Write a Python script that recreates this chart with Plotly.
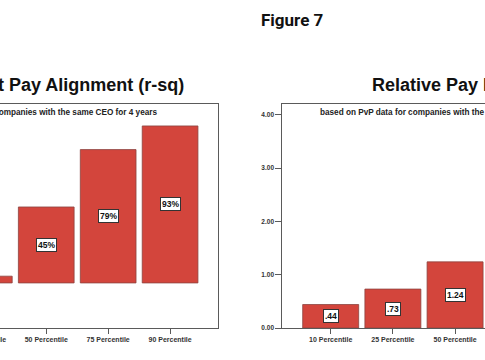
import plotly.graph_objects as go

# ---- data ----
left_categories = ["25 Percentile", "50 Percentile", "75 Percentile", "90 Percentile"]
left_values = [0.04, 0.45, 0.79, 0.93]
right_categories = ["10 Percentile", "25 Percentile", "50 Percentile"]
right_values = [0.44, 0.73, 1.24]
right_ytick_vals = [0.0, 1.0, 2.0, 3.0, 4.0]

fig_title = "Figure 7"
left_title = "Current Pay Alignment (r-sq)"
right_title = "Relative Pay For Performance"
subtitle = "based on PvP data for companies with the same CEO for 4 years"

# ---- styling / layout ----
W, H = 485, 360
M_T, M_B = 104, 32
BAR = "#d3453c"
BAR_EDGE = "#8c4440"
AXIS = "#5a5a5a"
FONT = "Liberation Sans, Arial, sans-serif"

L_DOM = [0.0, 218 / W]
R_DOM = [282.3 / W, 1.0]
L_XR = [0.253, 3.774]
R_XR = [-0.778, 2.481]
L_YR = [-0.267, 1.06]
R_YR = [0.0, 4.2]


def px_x(px):
    return px / W


def px_y(py):
    return (H - M_B - py) / (H - M_T - M_B)


fig = go.Figure()
fig.add_trace(go.Bar(x=left_categories, y=left_values, xaxis="x", yaxis="y",
                     marker=dict(color=BAR, line=dict(color=BAR_EDGE, width=0.8)),
                     hoverinfo="skip"))
fig.add_trace(go.Bar(x=right_categories, y=right_values, xaxis="x2", yaxis="y2",
                     marker=dict(color=BAR, line=dict(color=BAR_EDGE, width=0.8)),
                     hoverinfo="skip"))

tickfont = dict(family=FONT, size=7, color="#333333", weight=700)

annotations = []
# value labels centred in bars
for c, v in zip(left_categories, left_values):
    if c == left_categories[0]:
        continue
    annotations.append(dict(x=c, y=v / 2, xref="x", yref="y", text=f"{round(v*100)}%",
                            showarrow=False, bgcolor="white", bordercolor="#333333",
                            borderwidth=1, borderpad=1,
                            font=dict(family=FONT, size=8.5, color="#111111", weight=700)))
for c, v in zip(right_categories, right_values):
    annotations.append(dict(x=c, y=v / 2, xref="x2", yref="y2", text=f"{v:.2f}".lstrip("0"),
                            showarrow=False, bgcolor="white", bordercolor="#333333",
                            borderwidth=1, borderpad=1,
                            font=dict(family=FONT, size=8.5, color="#111111", weight=700)))

# partially visible tick label of first left category (its tick lies off-screen)
frac = (0 - L_XR[0]) / (L_XR[1] - L_XR[0])
annotations.append(dict(x=L_DOM[0] + frac * (L_DOM[1] - L_DOM[0]), y=px_y(339),
                        xref="paper", yref="paper", text=left_categories[0], showarrow=False,
                        xanchor="center", yanchor="middle", font=tickfont))

# titles
annotations.append(dict(x=px_x(292), y=px_y(20), xref="paper", yref="paper", text=fig_title,
                        showarrow=False, xanchor="center", yanchor="middle",
                        font=dict(family="Roboto, sans-serif", size=17, color="#111111", weight=700)))
annotations.append(dict(x=px_x(186), y=px_y(85), xref="paper", yref="paper", text=left_title,
                        showarrow=False, xanchor="right", yanchor="middle",
                        font=dict(family=FONT, size=18, color="#111111", weight=700)))
annotations.append(dict(x=px_x(370), y=px_y(85), xref="paper", yref="paper", text=right_title,
                        showarrow=False, xanchor="left", yanchor="middle",
                        font=dict(family=FONT, size=18, color="#111111", weight=700)))
# subtitles
subfont = dict(family=FONT, size=8.2, color="#222222", weight=700)
annotations.append(dict(x=px_x(158.5), y=px_y(112), xref="paper", yref="paper", text=subtitle,
                        showarrow=False, xanchor="right", yanchor="middle", font=subfont))
annotations.append(dict(x=px_x(318), y=px_y(112), xref="paper", yref="paper", text=subtitle,
                        showarrow=False, xanchor="left", yanchor="middle", font=subfont))

fig.update_layout(
    width=W, height=H,
    margin=dict(l=0, r=0, t=M_T, b=M_B),
    paper_bgcolor="white", plot_bgcolor="white",
    showlegend=False, bargap=0.1,
    annotations=annotations,
    xaxis=dict(domain=L_DOM, range=L_XR, anchor="y", showline=True, mirror=True,
               linecolor=AXIS, linewidth=1, ticks="outside", ticklen=5, tickcolor=AXIS,
               tickfont=tickfont, showgrid=False, zeroline=False, fixedrange=True),
    yaxis=dict(domain=[0, 1], range=L_YR, anchor="x", side="right", showline=True,
               linecolor=AXIS, linewidth=1, ticks="", showticklabels=False,
               showgrid=False, zeroline=False, fixedrange=True),
    xaxis2=dict(domain=R_DOM, range=R_XR, anchor="y2", showline=True, mirror=True,
                linecolor=AXIS, linewidth=1, ticks="outside", ticklen=5, tickcolor=AXIS,
                tickfont=tickfont, showgrid=False, zeroline=False, fixedrange=True),
    yaxis2=dict(domain=[0, 1], range=R_YR, anchor="x2", showline=True, mirror=False,
                linecolor=AXIS, linewidth=1, ticks="outside", ticklen=6, tickcolor=AXIS,
                tickvals=right_ytick_vals, tickformat=".2f",
                tickfont=dict(family=FONT, size=6.5, color="#333333", weight=700),
                showgrid=False, zeroline=False, fixedrange=True),
)

fig.write_html("out.html", config={"displayModeBar": False},
               post_script="document.body.style.margin='0';document.body.style.overflow='hidden';")
